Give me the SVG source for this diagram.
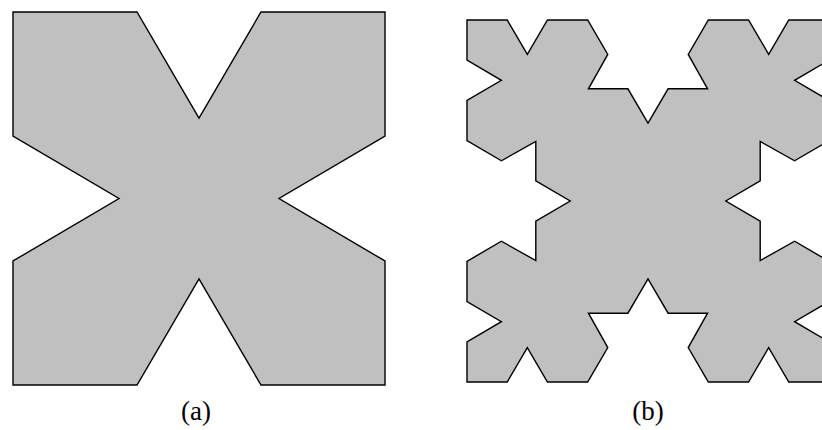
<svg xmlns="http://www.w3.org/2000/svg" width="822" height="430" viewBox="0 0 822 430">
<style>
.shape{fill:#c0c0c0;stroke:#000;stroke-width:1.4;stroke-linejoin:miter}
.lbl{font-family:"Liberation Serif","Times New Roman",serif;font-size:27px;fill:#000;text-anchor:middle}
</style>
<rect width="822" height="430" fill="#fff"/>
<g id="figure-a">
<polygon class="shape" points="13,12 137,12 199,118 261,12 385,12 385,136 279,198.5 385,261 385,385 261,385 199,279 137,385 13,385 13,261 119,198.5 13,136"/>
<text class="lbl" x="196" y="420">(a)</text>
</g>
<g id="figure-b">
<polygon class="shape" points="467,20 507.22,20 527.33,54.39 547.44,20 587.67,20 607.78,54.4 588.42,88.8 627.89,88.8 648,123.2 668.11,88.8 707.58,88.8 688.22,54.4 708.33,20 748.56,20 768.67,54.39 788.78,20 829,20 829,60.22 794.61,80.33 829,100.44 829,140.67 794.6,160.78 760.2,141.42 760.2,180.89 725.8,201 760.2,221.11 760.2,260.58 794.6,241.22 829,261.33 829,301.56 794.61,321.67 829,341.78 829,382 788.78,382 768.67,347.61 748.56,382 708.33,382 688.22,347.6 707.58,313.2 668.11,313.2 648,278.8 627.89,313.2 588.42,313.2 607.78,347.6 587.67,382 547.44,382 527.33,347.61 507.22,382 467,382 467,341.78 501.39,321.67 467,301.56 467,261.33 501.4,241.22 535.8,260.58 535.8,221.11 570.2,201 535.8,180.89 535.8,141.42 501.4,160.78 467,140.67 467,100.44 501.39,80.33 467,60.22"/>
<text class="lbl" x="648" y="420">(b)</text>
</g>
</svg>
